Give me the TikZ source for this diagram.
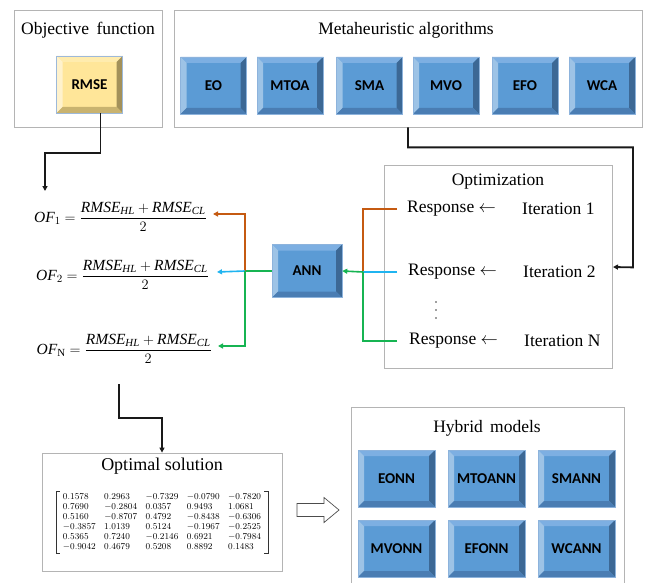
\documentclass[tikz,border=0pt]{standalone}
\usepackage{fontspec}
\setmainfont{Liberation Serif}
\newfontfamily\btnfont{Carlito}
\usepackage{amsmath}
\usetikzlibrary{arrows.meta,calc}

\definecolor{bface}{HTML}{5B9BD5}
\definecolor{btop}{HTML}{7DAFE2}
\definecolor{bleft}{HTML}{9DC3E6}
\definecolor{bright}{HTML}{3C6895}
\definecolor{bbot}{HTML}{4A7DB3}
\definecolor{bedge}{HTML}{8DB3DC}
\definecolor{yface}{HTML}{FFE699}
\definecolor{ytop}{HTML}{FFECAE}
\definecolor{yleft}{HTML}{FFF2CC}
\definecolor{yright}{HTML}{A3915A}
\definecolor{ybot}{HTML}{C9B36F}
\definecolor{yedge}{HTML}{9DB9DA}
\definecolor{panelgray}{HTML}{B4B4B4}
\definecolor{corange}{HTML}{C55A11}
\definecolor{cblue}{HTML}{1FB4F0}
\definecolor{cgreen}{HTML}{16B452}

\tikzset{
  bevelfill/.style n args={4}{
    path picture={
      \fill[#1] (path picture bounding box.north west) -- (path picture bounding box.north east)
        -- ([shift={(-6pt,-6pt)}]path picture bounding box.north east)
        -- ([shift={(6pt,-6pt)}]path picture bounding box.north west) -- cycle;
      \fill[#2] (path picture bounding box.north west) -- (path picture bounding box.south west)
        -- ([shift={(6pt,6pt)}]path picture bounding box.south west)
        -- ([shift={(6pt,-6pt)}]path picture bounding box.north west) -- cycle;
      \fill[#3] (path picture bounding box.north east) -- (path picture bounding box.south east)
        -- ([shift={(-6pt,6pt)}]path picture bounding box.south east)
        -- ([shift={(-6pt,-6pt)}]path picture bounding box.north east) -- cycle;
      \fill[#4] (path picture bounding box.south west) -- (path picture bounding box.south east)
        -- ([shift={(-6pt,6pt)}]path picture bounding box.south east)
        -- ([shift={(6pt,6pt)}]path picture bounding box.south west) -- cycle;
    }},
  bluebtn/.style={rectangle, inner sep=0pt, fill=bface, draw=bedge, line width=0.6pt,
    bevelfill={btop}{bleft}{bright}{bbot}, font=\btnfont\bfseries\fontsize{15}{17}\selectfont,
    minimum width=66pt, minimum height=57pt},
  yellowbtn/.style={rectangle, inner sep=0pt, fill=yface, draw=yedge, line width=0.6pt,
    bevelfill={ytop}{yleft}{yright}{ybot}, font=\btnfont\bfseries\fontsize{15}{17}\selectfont,
    minimum width=66pt, minimum height=57pt},
  hybbtn/.style={bluebtn, minimum width=77pt, minimum height=57pt},
  panel/.style={rectangle, draw=panelgray, line width=0.8pt, fill=white, inner sep=0pt},
  ptitle/.style={font=\fontsize{17.5}{19}\selectfont, inner sep=0pt},
  rtext/.style={font=\fontsize{17.5}{19}\selectfont, inner sep=0pt, anchor=west},
  eqn/.style={font=\fontsize{15.5}{17}\selectfont, inner sep=0pt},
  blk/.style={draw=black!90, line width=1.8pt, -{Triangle[length=5pt,width=5pt]}},
  colline/.style={line width=1.6pt},
  coltip/.style={-{Triangle[length=5pt,width=5pt]}},
  dotmark/.style={circle, fill=black!75, inner sep=0pt, minimum size=1.8pt},
  bracket/.style={draw=black!80, line width=0.6pt},
}

\begin{document}
\begin{tikzpicture}[x=1pt,y=-1pt]
\useasboundingbox (0,0) rectangle (645,583);
\fill[white] (0,0) rectangle (645,583);
\clip (0,0) rectangle (645,583);

% panels
\node[panel, minimum width=148pt, minimum height=117pt] (objbox) at (88,68.5) {};
\node[panel, minimum width=468pt, minimum height=117pt] (metabox) at (408,68.5) {};
\node[panel, minimum width=228pt, minimum height=203pt] (optbox) at (498,266.5) {};
\node[panel, minimum width=240pt, minimum height=118pt] (solbox) at (162,512) {};
\node[panel, minimum width=273pt, minimum height=200pt] (hybbox) at (487.5,507) {};

% titles
\node[ptitle] (objtitle) at (88,30) {Objective\, function};
\node[ptitle] (metatitle) at (406,30) {Metaheuristic algorithms};
\node[ptitle] (opttitle) at (498,182) {Optimization};
\node[ptitle, font=\fontsize{18}{20}\selectfont] (soltitle) at (162,466) {Optimal solution};
\node[ptitle] (hybtitle) at (487,428) {Hybrid\, models};

% buttons
\node[yellowbtn] (rmse) at (89.5,84.5) {RMSE};
\node[bluebtn] (eo) at (213.5,85.5) {EO};
\node[bluebtn] (mtoa) at (290,85.5) {MTOA};
\node[bluebtn] (sma) at (369.5,85.5) {SMA};
\node[bluebtn] (mvo) at (446,85.5) {MVO};
\node[bluebtn] (efo) at (525,85.5) {EFO};
\node[bluebtn] (wca) at (602,85.5) {WCA};
\node[bluebtn, minimum width=70pt, minimum height=53pt] (ann) at (307,271) {ANN};

\node[hybbtn] (eonn) at (396.5,478.5) {EONN};
\node[hybbtn] (mtoann) at (486.5,478.5) {MTOANN};
\node[hybbtn] (smann) at (576.5,478.5) {SMANN};
\node[hybbtn] (mvonn) at (396.5,548.5) {MVONN};
\node[hybbtn] (efonn) at (486.5,548.5) {EFONN};
\node[hybbtn] (wcann) at (576.5,548.5) {WCANN};

% optimization rows
\node[rtext] (r1) at (407,209) {Response $\leftarrow$};
\node[rtext] (it1) at (522,209) {Iteration 1};
\node[rtext] (r2) at (408,272) {Response $\leftarrow$};
\node[rtext] (it2) at (523,272) {Iteration 2};
\node[rtext] (rn) at (409,341) {Response $\leftarrow$};
\node[rtext] (itn) at (524,341) {Iteration N};
\node[dotmark] (d1) at (436,302) {};
\node[dotmark] (d2) at (436,310) {};
\node[dotmark] (d3) at (436,318) {};

% equations
\node[eqn, anchor=east] (of1) at (207,217) {$\mathit{OF}_1=\dfrac{\mathit{RMSE}_{\mathit{HL}}+\mathit{RMSE}_{\mathit{CL}}}{2}$};
\node[eqn, anchor=east] (of2) at (209,275) {$\mathit{OF}_2=\dfrac{\mathit{RMSE}_{\mathit{HL}}+\mathit{RMSE}_{\mathit{CL}}}{2}$};
\node[eqn, anchor=east] (ofn) at (212,349) {$\mathit{OF}_{\mathrm{N}}=\dfrac{\mathit{RMSE}_{\mathit{HL}}+\mathit{RMSE}_{\mathit{CL}}}{2}$};

% matrix
\node[inner xsep=2.5pt, inner ysep=1pt, font=\fontsize{9.2}{10}\selectfont] (mat) at (162,522) {%
  $\renewcommand{\arraystretch}{1}\setlength{\arraycolsep}{4.2pt}
  \begin{array}{lllll}
  0.1578 & 0.2963 & -0.7329 & -0.0790 & -0.7820\\
  0.7690 & -0.2804 & 0.0357 & 0.9493 & 1.0681\\
  0.5160 & -0.8707 & 0.4792 & -0.8438 & -0.6306\\
  -0.3857 & 1.0139 & 0.5124 & -0.1967 & -0.2525\\
  0.5365 & 0.7240 & -0.2146 & 0.6921 & -0.7984\\
  -0.9042 & 0.4679 & 0.5208 & 0.8892 & 0.1483
  \end{array}$};
\draw[bracket] ([xshift=3.5pt]mat.north west) -- (mat.north west) -- (mat.south west) -- ++(3.5,0);
\draw[bracket] ([xshift=-3.5pt]mat.north east) -- (mat.north east) -- (mat.south east) -- ++(-3.5,0);

% hollow arrow
\node[inner sep=0pt, minimum size=0pt] (harrow) at (297,510) {};
\draw[draw=black!70, line width=0.7pt, fill=white]
  (harrow) ++(0,-6.5) -- ++(27,0) -- ++(0,-6) -- ++(15,12.5) -- ++(-15,12.5) -- ++(0,-6) -- ++(-27,0) -- cycle;

% black connectors
\coordinate (oftop) at (45,191);
\draw[blk] ([xshift=11pt]rmse.south) -- ++(0,40) -| (oftop);
\coordinate (optin) at (613,267);
\draw[blk] (metabox.south) -- ++(0,20) -| ++(225,120) -- (optin);
\coordinate (solstart) at (119,384);
\draw[blk] (solstart) -- ++(0,34) -| (solbox.north);

% coloured connectors
\coordinate (jr) at (363,272);
\coordinate (jl) at (245,271);
\draw[colline, corange] ([xshift=-10pt]r1.west) -| (jr);
\draw[colline, cblue] ([xshift=-11pt]r2.west) -- (jr);
\draw[colline, cgreen] ([xshift=-12pt]rn.west) -| (jr);
\draw[colline, cgreen, coltip] (jr) -- (ann.east);
\draw[colline, cgreen] (ann.west) -- (jl);
\coordinate (t1) at (213,214);
\coordinate (t2) at (217,272);
\coordinate (tn) at (218,346);
\draw[colline, corange, coltip] (jl) |- (t1);
\draw[colline, cblue, coltip] (jl) -- (t2);
\draw[colline, cgreen, coltip] (jl) |- (tn);
\end{tikzpicture}
\end{document}
